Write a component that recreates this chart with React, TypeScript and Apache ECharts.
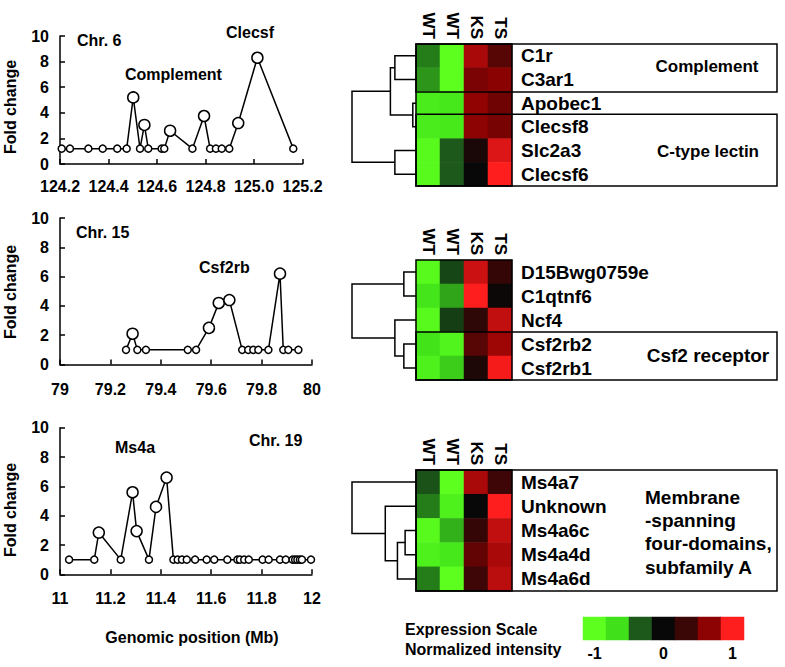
import React, { useEffect, useRef } from 'react';
import * as echarts from 'echarts';

const FONT = '"Liberation Sans", Arial, Helvetica, sans-serif';

// ---- Line charts (genomic position vs fold change) ----
const chr6Pos = [124.207, 124.241, 124.317, 124.376, 124.436, 124.475, 124.502, 124.530, 124.548, 124.564, 124.619, 124.630, 124.654, 124.746, 124.794, 124.819, 124.843, 124.867, 124.898, 124.935, 125.014, 125.162];
const chr6Fold = [1.2, 1.2, 1.2, 1.2, 1.2, 1.2, 5.2, 1.2, 3.05, 1.2, 1.2, 1.2, 2.6, 1.2, 3.75, 1.2, 1.2, 1.2, 1.2, 3.2, 8.3, 1.2];

const chr15Pos = [79.262, 79.288, 79.307, 79.341, 79.507, 79.540, 79.591, 79.630, 79.672, 79.723, 79.747, 79.767, 79.787, 79.827, 79.873, 79.886, 79.906, 79.946];
const chr15Fold = [1, 2.1, 1, 1, 1, 1, 2.5, 4.2, 4.4, 1, 1, 1, 1, 1, 6.2, 1, 1, 1];

const chr19Pos = [11.036, 11.136, 11.154, 11.241, 11.288, 11.304, 11.353, 11.381, 11.423, 11.450, 11.467, 11.484, 11.503, 11.536, 11.582, 11.612, 11.664, 11.704, 11.714, 11.731, 11.749, 11.804, 11.828, 11.873, 11.896, 11.923, 11.933, 11.942, 11.952, 11.960, 11.996];
const chr19Fold = [1, 1, 2.85, 1, 5.6, 2.95, 1, 4.6, 6.6, 1, 1, 1, 1, 1, 1, 1, 1, 1, 1, 1, 1, 1, 1, 1, 1, 1, 1, 1, 1, 1, 1];

// ---- Heatmaps ----
const sampleLabels = ['WT', 'WT', 'KS', 'TS'];

const genes1 = ['C1r', 'C3ar1', 'Apobec1', 'Clecsf8', 'Slc2a3', 'Clecsf6'];
const expr1 = [
  [-0.42, -1.0, 0.75, 0.45],
  [-0.48, -1.0, 0.6, 0.66],
  [-0.8, -0.74, 0.68, 0.55],
  [-0.8, -0.76, 0.67, 0.58],
  [-0.95, -0.33, 0.12, 0.9],
  [-0.95, -0.33, 0.0, 1.0],
];
const tree1 = [[0, 1, 0.33], [2, 3, 0.05], [6, 7, 0.4], [4, 5, 0.33], [8, 9, 1.0]];

const genes2 = ['D15Bwg0759e', 'C1qtnf6', 'Ncf4', 'Csf2rb2', 'Csf2rb1'];
const expr2 = [
  [-0.95, -0.25, 0.85, 0.3],
  [-0.72, -0.52, 1.0, 0.03],
  [-0.95, -0.22, 0.25, 0.82],
  [-0.7, -0.88, 0.45, 0.72],
  [-0.85, -0.62, 0.15, 0.97],
];
const tree2 = [[0, 1, 0.19], [3, 4, 0.19], [2, 6, 0.33], [5, 7, 1.0]];

const genes3 = ['Ms4a7', 'Unknown', 'Ms4a6c', 'Ms4a4d', 'Ms4a6d'];
const expr3 = [
  [-0.3, -1.0, 0.75, 0.35],
  [-0.42, -0.85, 0.0, 1.0],
  [-0.95, -0.55, 0.3, 0.82],
  [-0.85, -0.75, 0.5, 0.75],
  [-0.42, -1.0, 0.35, 0.8],
];
const tree3 = [[2, 3, 0.17], [5, 4, 0.29], [1, 6, 0.48], [0, 7, 1.0]];

// ---- Expression scale ----
const scaleColors = ['#5cff1e', '#40e01a', '#1c5a1a', '#080808', '#3a0606', '#8c0202', '#ff1e1e'];
const legendValues = [-1, -0.67, -0.33, 0, 0.33, 0.67, 1];
const legendTicks = ['-1', '', '', '0', '', '', '1'];

function dendroSegments(tree: number[][], n: number) {
  const ys: number[] = [];
  const hs: number[] = [];
  for (let i = 0; i < n; i++) { ys[i] = i; hs[i] = 0; }
  const segs: number[][] = [];
  tree.forEach(([a, b, h], k) => {
    segs.push([hs[a], ys[a], h, ys[b], hs[b]]);
    ys[n + k] = (ys[a] + ys[b]) / 2;
    hs[n + k] = h;
  });
  return segs;
}

function toHeat(expr: number[][]) {
  const out: number[][] = [];
  expr.forEach((row, r) => row.forEach((v, c) => out.push([c, r, v])));
  return out;
}

const boldText = (size: number) => ({ fontSize: size, fontWeight: 'bold' as const, fontFamily: FONT, color: '#000' });

export default function App() {
  const ref = useRef<HTMLDivElement>(null);
  useEffect(() => {
    if (!ref.current) return;
    const chart = echarts.init(ref.current, null, { renderer: 'svg' });

    const lineGrids = [
      { left: 60, top: 36, width: 242.5, height: 128 },
      { left: 60, top: 218, width: 252, height: 146.5 },
      { left: 60, top: 427.8, width: 252, height: 146.5 },
    ];
    const heatGrids = [
      { left: 416, top: 44, width: 96, height: 142 },
      { left: 416, top: 260, width: 96, height: 120 },
      { left: 416, top: 470, width: 96, height: 121 },
    ];
    const dendroGrids = heatGrids.map((g) => ({ left: 352, top: g.top, width: 64, height: g.height }));
    const legendGrid = { left: 583, top: 617, width: 161, height: 23 };

    const lineRanges = [[124.2, 125.2], [79, 80], [11, 12]];
    const lineData = [[chr6Pos, chr6Fold], [chr15Pos, chr15Fold], [chr19Pos, chr19Fold]];
    const heatSets = [[genes1, expr1, tree1], [genes2, expr2, tree2], [genes3, expr3, tree3]] as const;
    const labelMargins = [14, 17, 16];

    const xAxes: any[] = [];
    const yAxes: any[] = [];
    const series: any[] = [];

    lineRanges.forEach((rg, i) => {
      xAxes.push({
        type: 'value', gridIndex: i, min: rg[0], max: rg[1], interval: 0.2,
        splitLine: { show: false },
        axisLine: { show: true, onZero: false, lineStyle: { color: '#000', width: 1.5 } },
        axisTick: { show: true, inside: true, length: 5, lineStyle: { color: '#000', width: 1.5 } },
        axisLabel: { ...boldText(16), margin: labelMargins[i], showMinLabel: true, showMaxLabel: true,
          formatter: i === 0 ? (v: number) => v.toFixed(1) : (v: number) => String(Math.round(v * 10) / 10) },
      });
      yAxes.push({
        type: 'value', gridIndex: i, min: 0, max: 10, interval: 2,
        splitLine: { show: false },
        axisLine: { show: true, lineStyle: { color: '#000', width: 1.5 } },
        axisTick: { show: true, inside: true, length: 5, lineStyle: { color: '#000', width: 1.5 } },
        axisLabel: { ...boldText(16), margin: 11 },
      });
    });
    lineData.forEach(([pos, fold], i) => {
      series.push({
        type: 'line', xAxisIndex: i, yAxisIndex: i,
        data: pos.map((x, k) => ({ value: [x, fold[k]], symbolSize: fold[k] >= 2 ? 11 : 7 })),
        symbol: 'circle',
        itemStyle: { color: '#fff', borderColor: '#000', borderWidth: 1.5 },
        lineStyle: { color: '#000', width: 1.5 },
        emphasis: { disabled: true },
      });
    });

    heatSets.forEach(([genes, expr], i) => {
      const gi = 3 + i;
      xAxes.push({
        type: 'category', gridIndex: gi, data: sampleLabels, position: 'top',
        axisLine: { show: false }, axisTick: { show: false }, splitLine: { show: false },
        axisLabel: { ...boldText(17), rotate: 90, margin: 5, interval: 0 },
      });
      yAxes.push({
        type: 'category', gridIndex: gi, data: genes, inverse: true, position: 'right',
        axisLine: { show: false }, axisTick: { show: false }, splitLine: { show: false },
        axisLabel: { ...boldText(19), margin: 9, interval: 0 },
      });
      series.push({
        type: 'heatmap', xAxisIndex: gi, yAxisIndex: gi, data: toHeat(expr as number[][]),
        itemStyle: { borderWidth: 0 }, emphasis: { disabled: true },
      });
    });

    // legend strip (grid 6)
    xAxes.push({
      type: 'category', gridIndex: 6, data: legendTicks,
      axisLine: { show: false }, axisTick: { show: false }, splitLine: { show: false },
      axisLabel: { ...boldText(16), margin: 5, interval: 0 },
    });
    yAxes.push({ type: 'category', gridIndex: 6, data: [''], show: false });
    series.push({
      type: 'heatmap', xAxisIndex: 6, yAxisIndex: 6,
      data: legendValues.map((v, k) => [k, 0, v]),
      itemStyle: { borderWidth: 0 }, emphasis: { disabled: true },
    });

    // dendrograms (grids 7-9)
    heatSets.forEach(([genes, , tree], i) => {
      const gi = 7 + i;
      xAxes.push({ type: 'value', gridIndex: gi, min: 0, max: 1, inverse: true, show: false, splitLine: { show: false } });
      yAxes.push({ type: 'value', gridIndex: gi, min: -0.5, max: genes.length - 0.5, inverse: true, show: false, splitLine: { show: false } });
      series.push({
        type: 'custom', xAxisIndex: gi, yAxisIndex: gi, clip: false,
        data: dendroSegments(tree as number[][], genes.length),
        encode: { x: [0, 2, 4], y: [1, 3] },
        renderItem: (_p: any, api: any) => {
          const v = [0, 1, 2, 3, 4].map((d) => api.value(d));
          const pts = [api.coord([v[0], v[1]]), api.coord([v[2], v[1]]), api.coord([v[2], v[3]]), api.coord([v[4], v[3]])];
          return { type: 'polyline', shape: { points: pts }, style: { stroke: '#000', lineWidth: 1.5, fill: null } };
        },
      });
    });

    const txt = (text: string, x: number, y: number, size: number, align = 'left', rotation = 0) => ({
      type: 'text', x, y, rotation, z: 100,
      style: { text, fontSize: size, fontWeight: 'bold', fontFamily: FONT, fill: '#000', align, verticalAlign: 'middle' },
    });
    const box = (x: number, y: number, w: number, h: number) => ({
      type: 'rect', z: 100, shape: { x, y, width: w, height: h },
      style: { fill: 'transparent', stroke: '#000', lineWidth: 1.5 },
    });

    const graphic: any[] = [
      txt('Fold change', 10, 107, 16, 'center', Math.PI / 2),
      txt('Fold change', 10, 292, 16, 'center', Math.PI / 2),
      txt('Fold change', 10, 510, 16, 'center', Math.PI / 2),
      txt('Chr. 6', 77, 40, 16),
      txt('Complement', 125, 74, 16),
      txt('Clecsf', 226, 32, 16),
      txt('Chr. 15', 76, 232, 16),
      txt('Csf2rb', 199, 267, 16),
      txt('Ms4a', 115, 447, 16),
      txt('Chr. 19', 249, 440, 16),
      txt('Genomic position (Mb)', 192, 637, 16, 'center'),
      // heatmap boxes
      box(416, 44, 96, 142),
      box(416, 44, 361, 48),
      box(416, 114.3, 361, 71.7),
      txt('Complement', 707, 66, 17, 'center'),
      txt('C-type lectin', 708, 151, 17, 'center'),
      box(416, 260, 96, 120),
      box(416, 332, 361, 48),
      txt('Csf2 receptor', 708, 355, 19, 'center'),
      box(416, 470, 96, 121),
      box(416, 470, 361, 121),
      txt('Membrane', 645, 497, 19),
      txt('-spanning', 645, 520, 19),
      txt('four-domains,', 645, 543, 19),
      txt('subfamily A', 645, 567, 19),
      txt('Expression Scale', 405, 629, 16),
      txt('Normalized intensity', 405, 649, 16),
    ];

    chart.setOption({
      animation: false,
      backgroundColor: '#fff',
      textStyle: { fontFamily: FONT },
      grid: [...lineGrids, ...heatGrids, legendGrid, ...dendroGrids],
      xAxis: xAxes,
      yAxis: yAxes,
      visualMap: [{
        type: 'continuous', show: false, min: -1, max: 1, dimension: 2,
        seriesIndex: [3, 4, 5, 6], inRange: { color: scaleColors },
      }],
      series,
      graphic,
    });
    return () => chart.dispose();
  }, []);
  return <div ref={ref} style={{ position: 'absolute', left: 0, top: 0, width: 785, height: 667 }} />;
}
